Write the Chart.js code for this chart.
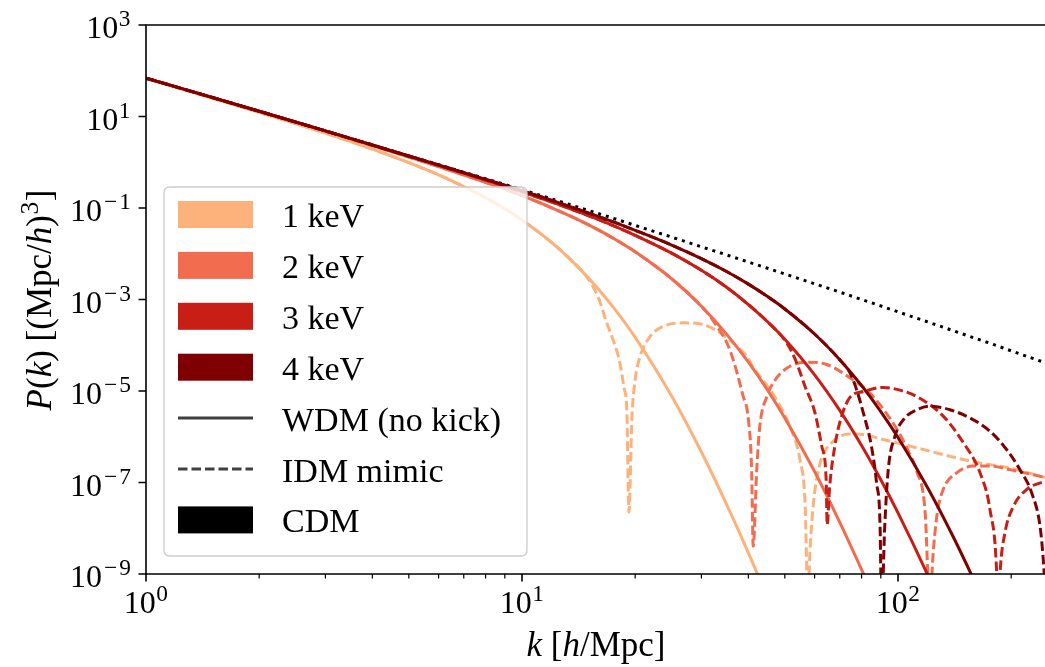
<!DOCTYPE html>
<html>
<head>
<meta charset="utf-8">
<script src="https://cdn.jsdelivr.net/npm/chart.js@4/dist/chart.umd.min.js"></script>
<style>
html,body{margin:0;padding:0;background:#ffffff;overflow:hidden;}
canvas{display:block;}
</style>
</head>
<body>
<canvas id="chart" width="1045" height="667"></canvas>
<script>
// ---------------- data ----------------
// wavenumber grid for CDM and the WDM (no kick) curves, k in h/Mpc
const kGrid = [1,2,3,4,5,6,7,8,9,10,12,14,16,18,20,25,30,35,40,45,50,60,70,80,90,100,120,140,160,180,200,246];

// CDM P(k) (dotted black)
const pCDM = [69.2,13.0,4.85,2.40,1.38,0.887,0.605,0.437,0.327,0.251,0.158,0.106,0.0752,0.0552,0.0416,0.0231,0.0142,0.00944,0.00659,0.00481,0.00361,0.00221,0.00145,0.00100,0.000723,0.000537,0.000323,0.000209,0.000143,0.000103,0.0000753,0.0000417];

// WDM (no kick), solid, on the first points of kGrid
const pWDM1 = [68.5,12.4,4.35,1.94,0.979,0.531,0.295,0.168,0.0964,0.0547,0.0175,0.00543,0.00166,0.000499,0.000149,7.76e-6,4.63e-7,3.33e-8,2.90e-9,3.01e-10];
const pWDM2 = [69.2,13.0,4.82,2.31,1.30,0.805,0.528,0.364,0.258,0.186,0.101,0.0570,0.0328,0.0190,0.0110,0.00284,0.000713,0.000175,4.26e-5,1.04e-5,2.58e-6,1.74e-7,1.35e-8,1.25e-9,1.36e-10];
const pWDM3 = [69.2,13.0,4.84,2.37,1.35,0.857,0.577,0.409,0.301,0.225,0.135,0.0845,0.0555,0.0372,0.0253,0.0103,0.00435,0.00185,0.000776,0.000326,0.000135,2.26e-5,3.78e-6,6.46e-7,1.15e-7,2.17e-8,9.44e-10,5.36e-11];
const pWDM4 = [69.2,13.0,4.84,2.38,1.37,0.873,0.592,0.423,0.314,0.238,0.147,0.0951,0.0647,0.0454,0.0325,0.0155,0.00782,0.00409,0.00217,0.00116,0.000621,0.000176,4.83e-5,1.32e-5,3.56e-6,9.66e-7,7.60e-8,6.68e-9,6.73e-10,7.87e-11];

// IDM mimic, dashed
const kIDM1 = [1,2,3,4,5,6,7,8,9,10,12,14,15,16,16.8,17.5,18.2,18.7,19.0,19.25,19.6,20.0,20.6,21.9,23.7,26.8,30.3,33.6,37.3,39.6,41.1,46.6,51.6,54.9,56.6,57.6,58.3,59.6,62.1,66.6,74.5,80.7,91.2,112.1,137.5,162,194.5,246];
const pIDM1 = [68.5,12.4,4.35,1.94,0.979,0.531,0.295,0.168,0.0964,0.0547,0.0175,0.00543,0.00282,0.00105,3.09e-4,1.26e-4,4.17e-5,1.12e-5,3.89e-6,2.24e-8,2.51e-6,1.78e-5,5.62e-5,1.55e-4,2.57e-4,3.09e-4,2.82e-4,1.91e-4,9.33e-5,5.75e-5,3.39e-5,8.32e-6,1.66e-6,3.02e-7,3.63e-8,2.51e-10,2.95e-9,3.63e-8,2.69e-7,7.41e-7,1.15e-6,1.12e-6,8.71e-7,5.75e-7,3.72e-7,2.75e-7,2.14e-7,1.29e-7];

const kIDM2 = [1,2,3,4,5,6,7,8,9,10,12,14,16,18,20,25,30,32.2,35.7,38.7,40.0,40.8,41.2,42.1,42.9,44.8,47.6,51.6,57.2,64.6,74.5,84.3,90.5,95.2,101.2,107,112.1,118.1,121.6,123.7,126.8,131.9,143.2,158.5,175.6,198.6,246];
const pIDM2 = [69.2,13.0,4.82,2.31,1.30,0.805,0.528,0.364,0.258,0.186,0.101,0.0570,0.0328,0.0190,0.0110,0.00284,0.000713,3.47e-4,7.94e-5,7.94e-6,2.40e-6,1.91e-7,4.07e-9,1.91e-7,1.70e-6,7.59e-6,1.95e-5,3.47e-5,4.27e-5,3.80e-5,1.95e-5,8.91e-6,4.47e-6,2.51e-6,1.12e-6,4.47e-7,1.78e-7,2.19e-8,1.58e-10,2.09e-9,1.82e-8,7.08e-8,1.62e-7,2.29e-7,2.29e-7,1.91e-7,1.29e-7];

const kIDM3 = [1,2,3,4,5,6,7,8,9,10,12,14,16,18,20,25,30,35,40,45,50.6,53.3,56.6,60.1,62.7,64.4,64.8,65.8,67.9,70.8,74.5,80.9,91.4,100,112.1,131.9,149.2,165.3,175.6,183,184.5,186.8,192.6,202.8,220,246];
const pIDM3 = [69.2,13.0,4.84,2.37,1.35,0.857,0.577,0.409,0.301,0.225,0.135,0.0845,0.0555,0.0372,0.0253,0.0103,0.00435,0.00185,0.000776,0.000326,1.12e-4,4.90e-5,1.26e-5,3.39e-6,6.17e-7,1.17e-7,1.20e-8,8.13e-8,6.17e-7,2.82e-6,7.24e-6,9.77e-6,1.20e-5,1.07e-5,7.59e-6,2.82e-6,7.41e-7,1.62e-7,2.57e-8,1.07e-9,1.0e-10,1.07e-9,8.13e-9,3.02e-8,7.08e-8,1.07e-7];

const kIDM4 = [1,2,3,4,5,6,7,8,9,10,12,14,16,18,20,25,30,35,40,45,50,60,70,74.5,77.6,81.3,85.0,87.7,89.6,90.4,92.2,94.2,98.1,104.3,112.1,121.6,137.5,155.4,175.6,194.5,211,226.8,238.6,243.4,246];
const pIDM4 = [69.2,13.0,4.84,2.38,1.37,0.873,0.592,0.423,0.314,0.238,0.147,0.0951,0.0647,0.0454,0.0325,0.0155,0.00782,0.00409,0.00217,0.00116,0.000621,0.000176,4.83e-5,2.51e-5,1.07e-5,2.82e-6,6.17e-7,9.77e-8,1.12e-8,1.58e-10,1.12e-8,1.91e-7,1.02e-6,2.57e-6,3.89e-6,4.68e-6,3.89e-6,2.57e-6,1.32e-6,5.25e-7,1.91e-7,5.89e-8,1.12e-8,2.09e-9,5.01e-10];

// categories / colours / legend
const masses = ['1 keV','2 keV','3 keV','4 keV'];
const massColors = ['#fdb27b','#f26c4f','#c81e16','#7f0000'];
const styleLabels = ['WDM (no kick)','IDM mimic','CDM'];

// axes
const xMin = 1, xMax = 246, yMin = 1e-9, yMax = 1e3;
const xMajorTicks = [1,10,100];
const xTickLabels = ['10^0','10^1','10^2'];
const xMinorTicks = [2,3,4,5,6,7,8,9,20,30,40,50,60,70,80,90,200];
const yMajorTicks = [1e3,1e1,1e-1,1e-3,1e-5,1e-7,1e-9];
const yTickLabels = ['10^3','10^1','10^\u22121','10^\u22123','10^\u22125','10^\u22127','10^\u22129'];

// ---------------- helpers ----------------
function pts(ks, ps){ return ps.map((p,i)=>({x:ks[i], y:p})); }
const FONT = '"Liberation Serif","DejaVu Serif",serif';
const SUP = 0.73;
function segFont(s, size){ const sz = s.sup ? size*SUP : size; return (s.it?'italic ':'') + sz.toFixed(1) + 'px ' + FONT; }
function segText(s){ return s.t; }
function richWidth(ctx, segs, size){ let w=0; for(const s of segs){ ctx.font=segFont(s,size); w+=ctx.measureText(segText(s)).width + (s.pad||0); } return w; }
function drawRich(ctx, segs, x, y, align, size){
  const w = richWidth(ctx, segs, size);
  let cx = align==='center' ? x-w/2 : (align==='right' ? x-w : x);
  ctx.textAlign='left'; ctx.textBaseline='alphabetic';
  for(const s of segs){
    ctx.font = segFont(s,size);
    ctx.fillText(segText(s), cx + (s.pad||0)/2, y + (s.sup ? -size*0.37 : 0));
    cx += ctx.measureText(segText(s)).width + (s.pad||0);
  }
}
function powSegs(label){
  const p = label.split('^');
  const segs = [{t:p[0]}];
  if(p[1].charAt(0)==='\u2212'){ segs.push({t:'\u2212',sup:true,pad:4}); segs.push({t:p[1].slice(1),sup:true}); }
  else segs.push({t:p[1],sup:true,pad:1});
  return segs;
}
function roundRect(ctx,x,y,w,h,r){
  ctx.beginPath();
  ctx.moveTo(x+r,y); ctx.lineTo(x+w-r,y); ctx.quadraticCurveTo(x+w,y,x+w,y+r);
  ctx.lineTo(x+w,y+h-r); ctx.quadraticCurveTo(x+w,y+h,x+w-r,y+h);
  ctx.lineTo(x+r,y+h); ctx.quadraticCurveTo(x,y+h,x,y+h-r);
  ctx.lineTo(x,y+r); ctx.quadraticCurveTo(x,y,x+r,y); ctx.closePath();
}

const DASH = [9.5,4];
const LW = 3;

// ---------------- plugin: matplotlib-like axes, labels, legend ----------------
const mplPlugin = {
  id:'mpl',
  afterDatasetsDraw(chart){
    const ctx = chart.ctx, a = chart.chartArea, xs = chart.scales.x, ys = chart.scales.y;
    ctx.save();
    ctx.fillStyle = '#000'; ctx.strokeStyle = '#000';
    // spines
    ctx.lineWidth = 1.6; ctx.lineCap = 'butt';
    ctx.beginPath();
    ctx.moveTo(a.left-0.8, a.top); ctx.lineTo(a.right+2, a.top);
    ctx.moveTo(a.left, a.top); ctx.lineTo(a.left, a.bottom);
    ctx.moveTo(a.left-0.8, a.bottom); ctx.lineTo(a.right+2, a.bottom);
    ctx.stroke();
    // x ticks
    ctx.lineWidth = 1.6;
    ctx.beginPath();
    xMajorTicks.forEach(v=>{ const px = xs.getPixelForValue(v); ctx.moveTo(px, a.bottom); ctx.lineTo(px, a.bottom+7.5); });
    ctx.stroke();
    ctx.lineWidth = 1.2;
    ctx.beginPath();
    xMinorTicks.forEach(v=>{ const px = xs.getPixelForValue(v); ctx.moveTo(px, a.bottom); ctx.lineTo(px, a.bottom+4.5); });
    ctx.stroke();
    // y ticks
    ctx.lineWidth = 1.6;
    ctx.beginPath();
    yMajorTicks.forEach(v=>{ const py = ys.getPixelForValue(v); ctx.moveTo(a.left, py); ctx.lineTo(a.left-7.5, py); });
    ctx.stroke();
    // tick labels
    const TS = 32;
    xMajorTicks.forEach((v,i)=>{ const px = xs.getPixelForValue(v); drawRich(ctx, powSegs(xTickLabels[i]), px, a.bottom+39, 'center', TS); });
    yMajorTicks.forEach((v,i)=>{ const py = ys.getPixelForValue(v); drawRich(ctx, powSegs(yTickLabels[i]), 131, py+13, 'right', TS); });
    // axis titles
    const LS = 35;
    drawRich(ctx, [{t:'k',it:true},{t:' ['},{t:'h',it:true},{t:'/Mpc]'}], 596, 656, 'center', LS);
    ctx.save();
    ctx.translate(51, 300);
    ctx.rotate(-Math.PI/2);
    drawRich(ctx, [{t:'P',it:true},{t:'('},{t:'k',it:true},{t:') [(Mpc/'},{t:'h',it:true},{t:')'},{t:'3',sup:true,pad:1},{t:']'}], 0, 0, 'center', LS);
    ctx.restore();
    ctx.restore();
  },
  afterDraw(chart){
    const ctx = chart.ctx;
    ctx.save();
    // frame
    roundRect(ctx, 164, 187, 363, 369, 6);
    ctx.fillStyle = 'rgba(255,255,255,0.8)';
    ctx.fill();
    ctx.strokeStyle = '#cccccc'; ctx.lineWidth = 1.3; ctx.stroke();
    const rowH = 50.9, base0 = 227, px0 = 178, pw = 75, ph = 27, tx = 282, FS = 34;
    let row = 0;
    masses.forEach((m,i)=>{
      const base = base0 + row*rowH;
      ctx.fillStyle = massColors[i];
      ctx.fillRect(px0, base-26, pw, ph);
      ctx.fillStyle = '#000';
      drawRich(ctx, [{t:m}], tx, base, 'left', FS);
      row++;
    });
    // WDM (solid line), IDM (dashed line), CDM (black patch)
    styleLabels.forEach((lab,i)=>{
      const base = base0 + row*rowH;
      const cy = base - 12.5;
      if(i===0 || i===1){
        ctx.strokeStyle = '#404040'; ctx.lineWidth = LW; ctx.lineCap='butt';
        ctx.setLineDash(i===1 ? DASH : []);
        ctx.beginPath(); ctx.moveTo(px0, cy); ctx.lineTo(px0+pw, cy); ctx.stroke();
        ctx.setLineDash([]);
      } else {
        ctx.fillStyle = '#000';
        ctx.fillRect(px0, base-26, pw, ph);
      }
      ctx.fillStyle = '#000';
      drawRich(ctx, [{t:lab}], tx, base, 'left', FS);
      row++;
    });
    ctx.restore();
  }
};

// ---------------- datasets (first listed = drawn on top) ----------------
const wdm = [pWDM1,pWDM2,pWDM3,pWDM4];
const idmK = [kIDM1,kIDM2,kIDM3,kIDM4];
const idmP = [pIDM1,pIDM2,pIDM3,pIDM4];
const datasets = [];
for(let i=masses.length-1;i>=0;i--){
  datasets.push({label: masses[i]+' IDM mimic', data: pts(idmK[i], idmP[i]), borderColor: massColors[i], borderWidth: LW, borderDash: DASH, fill:false});
  datasets.push({label: masses[i]+' WDM (no kick)', data: pts(kGrid, wdm[i]), borderColor: massColors[i], borderWidth: LW, fill:false});
}
datasets.push({label:'CDM', data: pts(kGrid, pCDM), borderColor:'#000000', borderWidth: LW, borderDash:[3,5], fill:false});

new Chart(document.getElementById('chart'), {
  type:'line',
  data:{datasets},
  options:{
    responsive:false,
    animation:false,
    devicePixelRatio:1,
    events:[],
    parsing:true,
    layout:{padding:{left:146, top:25, right:0, bottom:93}},
    plugins:{legend:{display:false}, tooltip:{enabled:false}, title:{display:false}},
    elements:{
      point:{radius:0, hoverRadius:0},
      line:{cubicInterpolationMode:'monotone', capBezierPoints:false, borderCapStyle:'butt', borderJoinStyle:'round'}
    },
    scales:{
      x:{type:'logarithmic', min:xMin, max:xMax, display:false},
      y:{type:'logarithmic', min:yMin, max:yMax, display:false}
    }
  },
  plugins:[mplPlugin]
});
</script>
</body>
</html>
